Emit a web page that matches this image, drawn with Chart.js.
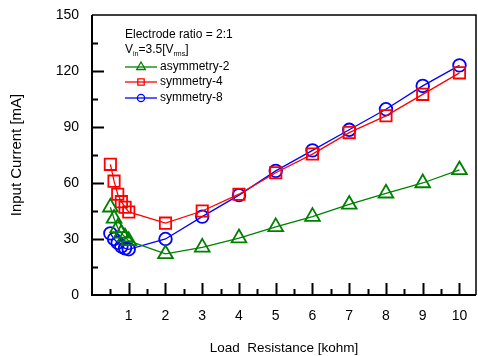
<!DOCTYPE html>
<html>
<head>
<meta charset="utf-8">
<script src="https://cdn.jsdelivr.net/npm/chart.js@4"></script>
<style>
  html, body { margin: 0; padding: 0; background: #fff; }
  #wrap { width: 478px; height: 356px; }
</style>
</head>
<body>
<div id="wrap"><canvas id="chart" width="478" height="356"></canvas></div>
<script>
// data
const loadResistance = [0.5, 0.6, 0.7, 0.8, 0.9, 1, 2, 3, 4, 5, 6, 7, 8, 9, 10];
const asymmetry2 = [47, 41, 36, 33, 31, 29, 22, 25.5, 30.5, 36.5, 42, 48.5, 54.5, 60, 67];
const symmetry4 = [70, 61, 54, 50, 47, 44.5, 38.5, 45, 54, 65.5, 75.5, 87, 96, 107.5, 119];
const symmetry8 = [33, 30, 28, 26, 25, 24.5, 30, 42, 53.5, 66.5, 77.5, 88.5, 99.5, 112, 123];
const xTickValues = [1, 2, 3, 4, 5, 6, 7, 8, 9, 10];
const yTickValues = [0, 30, 60, 90, 120, 150];

const FONT = 'Arial, "Liberation Sans", sans-serif';

function toPoints(ys) {
  return loadResistance.map((x, i) => ({ x: x, y: ys[i] }));
}

// frame + inward ticks, like the original plot
const framePlugin = {
  id: 'frame',
  afterDraw(chart) {
    const ctx = chart.ctx;
    const a = chart.chartArea;
    const xs = chart.scales.x, ys = chart.scales.y;
    ctx.save();
    ctx.strokeStyle = '#000';
    ctx.lineWidth = 1.5;
    ctx.beginPath();
    ctx.moveTo(a.left, a.top);
    ctx.lineTo(a.right, a.top);
    ctx.lineTo(a.right, a.bottom);
    ctx.stroke();
    ctx.lineWidth = 2;
    ctx.beginPath();
    ctx.moveTo(a.left, a.top);
    ctx.lineTo(a.left, a.bottom);
    ctx.lineTo(a.right, a.bottom);
    ctx.stroke();

    ctx.beginPath();
    for (let v = 0.5; v <= 10; v += 0.5) {
      const px = Math.round(xs.getPixelForValue(v)) + 0.5;
      const len = Number.isInteger(v) ? 12 : 6;
      ctx.moveTo(px, a.bottom);
      ctx.lineTo(px, a.bottom - len);
    }
    for (let v = 15; v < 150; v += 15) {
      const py = Math.round(ys.getPixelForValue(v)) + 0.5;
      const len = v % 30 === 0 ? 12 : 6;
      ctx.moveTo(a.left, py);
      ctx.lineTo(a.left + len, py);
    }
    ctx.stroke();
    ctx.restore();
  }
};

// annotation text and legend in the upper left
const notePlugin = {
  id: 'note',
  afterDraw(chart) {
    const ctx = chart.ctx;
    const a = chart.chartArea;
    const x0 = a.left + 33;
    ctx.save();
    ctx.fillStyle = '#000';
    ctx.textBaseline = 'middle';
    ctx.font = '12px ' + FONT;
    ctx.fillText('Electrode ratio = 2:1', x0, 35);

    let x = x0;
    const y = 50;
    ctx.fillText('V', x, y); x += ctx.measureText('V').width;
    ctx.font = '7px ' + FONT;
    ctx.fillText('in', x, y + 4); x += ctx.measureText('in').width;
    ctx.font = '12px ' + FONT;
    ctx.fillText('=3.5[V', x, y); x += ctx.measureText('=3.5[V').width;
    ctx.font = '7px ' + FONT;
    ctx.fillText('rms', x, y + 4); x += ctx.measureText('rms').width;
    ctx.font = '12px ' + FONT;
    ctx.fillText(']', x, y);

    const rows = [67, 82, 98];
    chart.data.datasets.forEach((ds, i) => {
      const ly = rows[i];
      ctx.strokeStyle = ds.borderColor;
      ctx.fillStyle = 'rgba(0,0,0,0)';
      ctx.lineWidth = 1.3;
      ctx.beginPath();
      ctx.moveTo(x0, ly);
      ctx.lineTo(x0 + 32, ly);
      ctx.stroke();
      Chart.helpers.drawPoint(ctx, { pointStyle: ds.pointStyle, radius: ds.legendRadius, borderWidth: 1.3 }, x0 + 16, ly);
      ctx.fillStyle = '#000';
      ctx.font = '12px ' + FONT;
      ctx.fillText(ds.label, x0 + 35, ly);
    });
    ctx.restore();
  }
};

const makeSet = (label, ys, color, style, r, lr) => ({
  label: label,
  data: toPoints(ys),
  showLine: true,
  borderColor: color,
  backgroundColor: 'rgba(0,0,0,0)',
  borderWidth: 1.3,
  pointStyle: style,
  pointRadius: r,
  pointBorderWidth: 1.8,
  pointBorderColor: color,
  pointBackgroundColor: 'rgba(0,0,0,0)',
  legendRadius: lr,
  tension: 0
});

new Chart(document.getElementById('chart'), {
  type: 'scatter',
  data: {
    datasets: [
      makeSet('asymmetry-2', asymmetry2, '#008000', 'triangle', 8.5, 5),
      makeSet('symmetry-4', symmetry4, '#ff0000', 'rect', 8, 4.5),
      makeSet('symmetry-8', symmetry8, '#0000ff', 'circle', 6.3, 3.6)
    ]
  },
  options: {
    responsive: false,
    animation: false,
    layout: { autoPadding: false, padding: { top: 15, right: 2, left: 0, bottom: 0 } },
    plugins: {
      legend: { display: false },
      tooltip: { enabled: false }
    },
    scales: {
      x: {
        type: 'linear',
        min: 0,
        max: 10.45,
        afterBuildTicks: s => { s.ticks = xTickValues.map(v => ({ value: v })); },
        afterFit: s => { s.height = 61; s.paddingLeft = 0; s.paddingRight = 0; },
        grid: { display: false, drawTicks: true, tickLength: 13 },
        border: { display: false },
        ticks: { color: '#000', font: { family: FONT, size: 14 }, padding: 0, maxRotation: 0 },
        title: { display: true, text: 'Load  Resistance [kohm]', color: '#000', font: { family: FONT, size: 13.5 }, padding: { top: 0, bottom: 0 } }
      },
      y: {
        type: 'linear',
        min: 0,
        max: 150,
        afterBuildTicks: s => { s.ticks = yTickValues.map(v => ({ value: v })); },
        afterFit: s => { s.width = 92; s.paddingTop = 0; s.paddingBottom = 0; },
        grid: { display: false, drawTicks: true, tickLength: 13 },
        border: { display: false },
        ticks: { color: '#000', font: { family: FONT, size: 14 }, padding: 0 },
        title: { display: true, text: 'Input Current [mA]', color: '#000', font: { family: FONT, size: 15 }, padding: { top: 8, bottom: 0 } }
      }
    }
  },
  plugins: [framePlugin, notePlugin]
});
</script>
</body>
</html>
